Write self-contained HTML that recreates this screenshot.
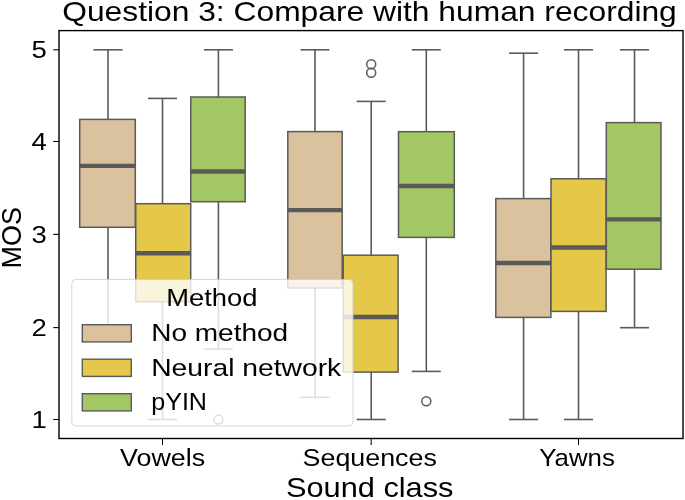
<!DOCTYPE html>
<html><head><meta charset="utf-8"><title>Question 3: Compare with human recording</title>
<style>html,body{margin:0;padding:0;background:#fff;overflow:hidden}svg{display:block;will-change:transform}text{font-family:"Liberation Sans", sans-serif}</style>
</head><body>
<svg width="685" height="500" viewBox="0 0 685 500" font-family='"Liberation Sans", sans-serif' fill="#000">
<rect width="685" height="500" fill="#fff"/>
<line x1="108.00" y1="119.40" x2="108.00" y2="49.80" stroke="#5a5a5a" stroke-width="1.6"/>
<line x1="108.00" y1="227.30" x2="108.00" y2="327.00" stroke="#5a5a5a" stroke-width="1.6"/>
<line x1="94.30" y1="49.80" x2="121.70" y2="49.80" stroke="#5a5a5a" stroke-width="1.6" stroke-linecap="square"/>
<line x1="94.30" y1="327.00" x2="121.70" y2="327.00" stroke="#5a5a5a" stroke-width="1.6" stroke-linecap="square"/>
<rect x="79.70" y="119.40" width="55.60" height="107.90" fill="#dbc29e" stroke="#5a5a5a" stroke-width="1.5"/>
<line x1="79.70" y1="165.85" x2="135.30" y2="165.85" stroke="#5a5a5a" stroke-width="4.4"/>
<line x1="162.50" y1="203.70" x2="162.50" y2="98.40" stroke="#5a5a5a" stroke-width="1.6"/>
<line x1="162.50" y1="301.70" x2="162.50" y2="419.50" stroke="#5a5a5a" stroke-width="1.6"/>
<line x1="148.80" y1="98.40" x2="176.20" y2="98.40" stroke="#5a5a5a" stroke-width="1.6" stroke-linecap="square"/>
<line x1="148.80" y1="419.50" x2="176.20" y2="419.50" stroke="#5a5a5a" stroke-width="1.6" stroke-linecap="square"/>
<rect x="135.75" y="203.70" width="54.95" height="98.00" fill="#e5c849" stroke="#5a5a5a" stroke-width="1.5"/>
<line x1="135.75" y1="253.30" x2="190.70" y2="253.30" stroke="#5a5a5a" stroke-width="4.4"/>
<line x1="218.40" y1="97.00" x2="218.40" y2="49.80" stroke="#5a5a5a" stroke-width="1.6"/>
<line x1="218.40" y1="201.70" x2="218.40" y2="349.10" stroke="#5a5a5a" stroke-width="1.6"/>
<line x1="204.70" y1="49.80" x2="232.10" y2="49.80" stroke="#5a5a5a" stroke-width="1.6" stroke-linecap="square"/>
<line x1="204.70" y1="349.10" x2="232.10" y2="349.10" stroke="#5a5a5a" stroke-width="1.6" stroke-linecap="square"/>
<rect x="190.75" y="97.00" width="54.45" height="104.70" fill="#a2c764" stroke="#5a5a5a" stroke-width="1.5"/>
<line x1="190.75" y1="171.50" x2="245.20" y2="171.50" stroke="#5a5a5a" stroke-width="4.4"/>
<circle cx="218.40" cy="419.60" r="4.5" fill="none" stroke="#5a5a5a" stroke-width="1.5"/>
<line x1="315.00" y1="131.60" x2="315.00" y2="49.80" stroke="#5a5a5a" stroke-width="1.6"/>
<line x1="315.00" y1="288.00" x2="315.00" y2="397.40" stroke="#5a5a5a" stroke-width="1.6"/>
<line x1="301.30" y1="49.80" x2="328.70" y2="49.80" stroke="#5a5a5a" stroke-width="1.6" stroke-linecap="square"/>
<line x1="301.30" y1="397.40" x2="328.70" y2="397.40" stroke="#5a5a5a" stroke-width="1.6" stroke-linecap="square"/>
<rect x="287.80" y="131.60" width="54.40" height="156.40" fill="#dbc29e" stroke="#5a5a5a" stroke-width="1.5"/>
<line x1="287.80" y1="210.10" x2="342.20" y2="210.10" stroke="#5a5a5a" stroke-width="4.4"/>
<line x1="371.20" y1="255.20" x2="371.20" y2="101.40" stroke="#5a5a5a" stroke-width="1.6"/>
<line x1="371.20" y1="372.10" x2="371.20" y2="419.50" stroke="#5a5a5a" stroke-width="1.6"/>
<line x1="357.50" y1="101.40" x2="384.90" y2="101.40" stroke="#5a5a5a" stroke-width="1.6" stroke-linecap="square"/>
<line x1="357.50" y1="419.50" x2="384.90" y2="419.50" stroke="#5a5a5a" stroke-width="1.6" stroke-linecap="square"/>
<rect x="343.20" y="255.20" width="54.90" height="116.90" fill="#e5c849" stroke="#5a5a5a" stroke-width="1.5"/>
<line x1="343.20" y1="317.00" x2="398.10" y2="317.00" stroke="#5a5a5a" stroke-width="4.4"/>
<circle cx="371.20" cy="64.20" r="4.5" fill="none" stroke="#5a5a5a" stroke-width="1.5"/>
<circle cx="371.20" cy="72.80" r="4.5" fill="none" stroke="#5a5a5a" stroke-width="1.5"/>
<line x1="426.30" y1="131.70" x2="426.30" y2="49.80" stroke="#5a5a5a" stroke-width="1.6"/>
<line x1="426.30" y1="237.40" x2="426.30" y2="371.40" stroke="#5a5a5a" stroke-width="1.6"/>
<line x1="412.60" y1="49.80" x2="440.00" y2="49.80" stroke="#5a5a5a" stroke-width="1.6" stroke-linecap="square"/>
<line x1="412.60" y1="371.40" x2="440.00" y2="371.40" stroke="#5a5a5a" stroke-width="1.6" stroke-linecap="square"/>
<rect x="398.50" y="131.70" width="55.80" height="105.70" fill="#a2c764" stroke="#5a5a5a" stroke-width="1.5"/>
<line x1="398.50" y1="186.00" x2="454.30" y2="186.00" stroke="#5a5a5a" stroke-width="4.4"/>
<circle cx="426.30" cy="401.30" r="4.5" fill="none" stroke="#5a5a5a" stroke-width="1.5"/>
<line x1="523.60" y1="198.60" x2="523.60" y2="53.20" stroke="#5a5a5a" stroke-width="1.6"/>
<line x1="523.60" y1="317.40" x2="523.60" y2="419.50" stroke="#5a5a5a" stroke-width="1.6"/>
<line x1="509.90" y1="53.20" x2="537.30" y2="53.20" stroke="#5a5a5a" stroke-width="1.6" stroke-linecap="square"/>
<line x1="509.90" y1="419.50" x2="537.30" y2="419.50" stroke="#5a5a5a" stroke-width="1.6" stroke-linecap="square"/>
<rect x="495.80" y="198.60" width="55.10" height="118.80" fill="#dbc29e" stroke="#5a5a5a" stroke-width="1.5"/>
<line x1="495.80" y1="263.00" x2="550.90" y2="263.00" stroke="#5a5a5a" stroke-width="4.4"/>
<line x1="578.50" y1="178.80" x2="578.50" y2="49.80" stroke="#5a5a5a" stroke-width="1.6"/>
<line x1="578.50" y1="311.40" x2="578.50" y2="419.50" stroke="#5a5a5a" stroke-width="1.6"/>
<line x1="564.80" y1="49.80" x2="592.20" y2="49.80" stroke="#5a5a5a" stroke-width="1.6" stroke-linecap="square"/>
<line x1="564.80" y1="419.50" x2="592.20" y2="419.50" stroke="#5a5a5a" stroke-width="1.6" stroke-linecap="square"/>
<rect x="551.00" y="178.80" width="55.10" height="132.60" fill="#e5c849" stroke="#5a5a5a" stroke-width="1.5"/>
<line x1="551.00" y1="247.50" x2="606.10" y2="247.50" stroke="#5a5a5a" stroke-width="4.4"/>
<line x1="634.50" y1="122.60" x2="634.50" y2="49.80" stroke="#5a5a5a" stroke-width="1.6"/>
<line x1="634.50" y1="269.20" x2="634.50" y2="327.70" stroke="#5a5a5a" stroke-width="1.6"/>
<line x1="620.80" y1="49.80" x2="648.20" y2="49.80" stroke="#5a5a5a" stroke-width="1.6" stroke-linecap="square"/>
<line x1="620.80" y1="327.70" x2="648.20" y2="327.70" stroke="#5a5a5a" stroke-width="1.6" stroke-linecap="square"/>
<rect x="606.30" y="122.60" width="54.70" height="146.60" fill="#a2c764" stroke="#5a5a5a" stroke-width="1.5"/>
<line x1="606.30" y1="219.40" x2="661.00" y2="219.40" stroke="#5a5a5a" stroke-width="4.4"/>
<rect x="71.8" y="279.4" width="281.20" height="146.60" rx="4" ry="4" fill="#fff" fill-opacity="0.8" stroke="#cccccc" stroke-opacity="0.8" stroke-width="1"/>
<text x="166.2" y="305.9" font-size="24.4" textLength="91.3" lengthAdjust="spacingAndGlyphs">Method</text>
<rect x="82.3" y="324.70" width="49.0" height="17.2" fill="#dbc29e" stroke="#5a5a5a" stroke-width="1.4"/>
<text x="151.2" y="341.30" font-size="24.4" textLength="137" lengthAdjust="spacingAndGlyphs">No method</text>
<rect x="82.3" y="359.20" width="49.0" height="17.2" fill="#e5c849" stroke="#5a5a5a" stroke-width="1.4"/>
<text x="151.2" y="375.80" font-size="24.4" textLength="190" lengthAdjust="spacingAndGlyphs">Neural network</text>
<rect x="82.3" y="393.70" width="49.0" height="17.2" fill="#a2c764" stroke="#5a5a5a" stroke-width="1.4"/>
<text x="151.2" y="410.30" font-size="24.4" textLength="55.8" lengthAdjust="spacingAndGlyphs">pYIN</text>
<rect x="59.00" y="30.6" width="624.00" height="407.90" fill="none" stroke="#000" stroke-width="1.4"/>
<line x1="53.2" y1="419.50" x2="59" y2="419.50" stroke="#000" stroke-width="1.1"/>
<text x="31.6" y="428.00" font-size="24.4" textLength="15.3" lengthAdjust="spacingAndGlyphs">1</text>
<line x1="53.2" y1="327.60" x2="59" y2="327.60" stroke="#000" stroke-width="1.1"/>
<text x="31.6" y="336.10" font-size="24.4" textLength="15.3" lengthAdjust="spacingAndGlyphs">2</text>
<line x1="53.2" y1="234.40" x2="59" y2="234.40" stroke="#000" stroke-width="1.1"/>
<text x="31.6" y="242.90" font-size="24.4" textLength="15.3" lengthAdjust="spacingAndGlyphs">3</text>
<line x1="53.2" y1="141.50" x2="59" y2="141.50" stroke="#000" stroke-width="1.1"/>
<text x="31.6" y="150.00" font-size="24.4" textLength="15.3" lengthAdjust="spacingAndGlyphs">4</text>
<line x1="53.2" y1="49.80" x2="59" y2="49.80" stroke="#000" stroke-width="1.1"/>
<text x="31.6" y="58.30" font-size="24.4" textLength="15.3" lengthAdjust="spacingAndGlyphs">5</text>
<line x1="162.50" y1="438" x2="162.50" y2="445" stroke="#000" stroke-width="1.05"/>
<line x1="371.20" y1="438" x2="371.20" y2="445" stroke="#000" stroke-width="1.05"/>
<line x1="578.50" y1="438" x2="578.50" y2="445" stroke="#000" stroke-width="1.05"/>
<text x="62.2" y="21.0" font-size="28.3" textLength="614.6" lengthAdjust="spacingAndGlyphs">Question 3: Compare with human recording</text>
<text x="120.1" y="466" font-size="24.4" textLength="85" lengthAdjust="spacingAndGlyphs">Vowels</text>
<text x="302.6" y="466" font-size="24.4" textLength="134.3" lengthAdjust="spacingAndGlyphs">Sequences</text>
<text x="539.2" y="466" font-size="24.4" textLength="75.7" lengthAdjust="spacingAndGlyphs">Yawns</text>
<text x="285.9" y="496.5" font-size="27.6" textLength="167.6" lengthAdjust="spacingAndGlyphs">Sound class</text>
<text transform="translate(20.5,268.4) rotate(-90)" x="0" y="0" font-size="27.6" textLength="61.3" lengthAdjust="spacingAndGlyphs">MOS</text>
</svg>
</body></html>
